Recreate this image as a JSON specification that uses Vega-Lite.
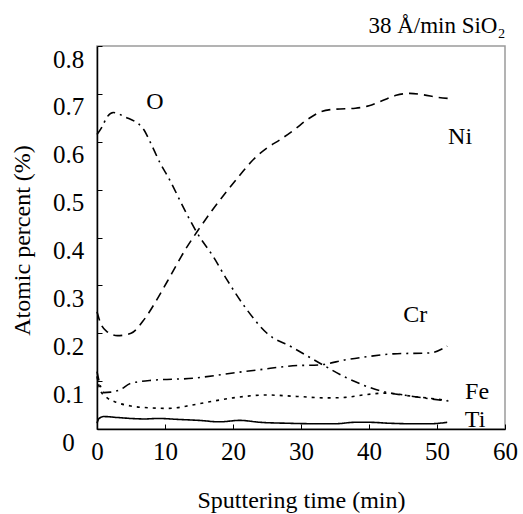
{
  "$schema": "https://vega.github.io/schema/vega-lite/v6.json",
  "autosize": {"type": "none"},
  "padding": {"left": 97, "top": 46, "right": 18, "bottom": 85},
  "width": 408,
  "height": 383,
  "background": "white",
  "config": {
    "font": "Liberation Serif, Times New Roman, serif",
    "view": {"stroke": "#9a9a9a", "strokeWidth": 1.5},
    "axis": {"grid": false, "domainColor": "black", "domainWidth": 1.5, "tickColor": "black", "labelColor": "black", "titleColor": "black", "labelFont": "Liberation Serif, Times New Roman, serif", "titleFont": "Liberation Serif, Times New Roman, serif", "labelFontSize": 25, "titleFontSize": 24, "titleFontWeight": "normal"}
  },
  "title": {"text": "38 Å/min SiO₂", "anchor": "end", "fontSize": 23, "fontWeight": "normal", "font": "Liberation Serif, Times New Roman, serif", "color": "black", "offset": 8, "dx": -12},
  "datasets": {
    "lines": [
      {"el": "Ni", "t": 0, "v": 0.245}, {"el": "Ni", "t": 0.5, "v": 0.222}, {"el": "Ni", "t": 1.5, "v": 0.203}, {"el": "Ni", "t": 3, "v": 0.195}, {"el": "Ni", "t": 5, "v": 0.2}, {"el": "Ni", "t": 7, "v": 0.23}, {"el": "Ni", "t": 9, "v": 0.275}, {"el": "Ni", "t": 11, "v": 0.325}, {"el": "Ni", "t": 13, "v": 0.375}, {"el": "Ni", "t": 15, "v": 0.418}, {"el": "Ni", "t": 17, "v": 0.458}, {"el": "Ni", "t": 19, "v": 0.495}, {"el": "Ni", "t": 21, "v": 0.53}, {"el": "Ni", "t": 23, "v": 0.563}, {"el": "Ni", "t": 25, "v": 0.587}, {"el": "Ni", "t": 27, "v": 0.605}, {"el": "Ni", "t": 29, "v": 0.625}, {"el": "Ni", "t": 31, "v": 0.647}, {"el": "Ni", "t": 33, "v": 0.663}, {"el": "Ni", "t": 35, "v": 0.668}, {"el": "Ni", "t": 38, "v": 0.67}, {"el": "Ni", "t": 40, "v": 0.675}, {"el": "Ni", "t": 42, "v": 0.686}, {"el": "Ni", "t": 44, "v": 0.697}, {"el": "Ni", "t": 46, "v": 0.701}, {"el": "Ni", "t": 48, "v": 0.698}, {"el": "Ni", "t": 50, "v": 0.693}, {"el": "Ni", "t": 52, "v": 0.69},
      {"el": "O", "t": 0, "v": 0.615}, {"el": "O", "t": 0.7, "v": 0.63}, {"el": "O", "t": 1.5, "v": 0.652}, {"el": "O", "t": 2.4, "v": 0.661}, {"el": "O", "t": 4.1, "v": 0.652}, {"el": "O", "t": 6.8, "v": 0.627}, {"el": "O", "t": 7.8, "v": 0.6}, {"el": "O", "t": 9.3, "v": 0.555}, {"el": "O", "t": 10.7, "v": 0.52}, {"el": "O", "t": 12.7, "v": 0.463}, {"el": "O", "t": 14.7, "v": 0.41}, {"el": "O", "t": 17.1, "v": 0.36}, {"el": "O", "t": 19.1, "v": 0.312}, {"el": "O", "t": 22, "v": 0.25}, {"el": "O", "t": 25, "v": 0.2}, {"el": "O", "t": 28.8, "v": 0.17}, {"el": "O", "t": 33.2, "v": 0.134}, {"el": "O", "t": 36.7, "v": 0.107}, {"el": "O", "t": 41.6, "v": 0.08}, {"el": "O", "t": 46.5, "v": 0.068}, {"el": "O", "t": 51.9, "v": 0.058},
      {"el": "Cr", "t": 0, "v": 0.12}, {"el": "Cr", "t": 0.5, "v": 0.09}, {"el": "Cr", "t": 1, "v": 0.076}, {"el": "Cr", "t": 2, "v": 0.077}, {"el": "Cr", "t": 3.4, "v": 0.082}, {"el": "Cr", "t": 4.9, "v": 0.095}, {"el": "Cr", "t": 8.3, "v": 0.102}, {"el": "Cr", "t": 14.1, "v": 0.106}, {"el": "Cr", "t": 20, "v": 0.117}, {"el": "Cr", "t": 24, "v": 0.124}, {"el": "Cr", "t": 28.8, "v": 0.132}, {"el": "Cr", "t": 32.8, "v": 0.134}, {"el": "Cr", "t": 36.7, "v": 0.145}, {"el": "Cr", "t": 39.7, "v": 0.151}, {"el": "Cr", "t": 43.6, "v": 0.157}, {"el": "Cr", "t": 49, "v": 0.159}, {"el": "Cr", "t": 51.5, "v": 0.173},
      {"el": "Fe", "t": 0, "v": 0.11}, {"el": "Fe", "t": 0.5, "v": 0.08}, {"el": "Fe", "t": 1.5, "v": 0.065}, {"el": "Fe", "t": 3, "v": 0.055}, {"el": "Fe", "t": 5, "v": 0.048}, {"el": "Fe", "t": 8, "v": 0.044}, {"el": "Fe", "t": 10.5, "v": 0.043}, {"el": "Fe", "t": 14, "v": 0.05}, {"el": "Fe", "t": 17, "v": 0.058}, {"el": "Fe", "t": 20, "v": 0.065}, {"el": "Fe", "t": 25, "v": 0.071}, {"el": "Fe", "t": 29.4, "v": 0.068}, {"el": "Fe", "t": 33.8, "v": 0.065}, {"el": "Fe", "t": 36.5, "v": 0.066}, {"el": "Fe", "t": 39.1, "v": 0.071}, {"el": "Fe", "t": 42.6, "v": 0.075}, {"el": "Fe", "t": 46.5, "v": 0.068}, {"el": "Fe", "t": 49, "v": 0.064}, {"el": "Fe", "t": 51.5, "v": 0.06},
      {"el": "Ti", "t": 0, "v": 0.012}, {"el": "Ti", "t": 0.3, "v": 0.022}, {"el": "Ti", "t": 1, "v": 0.026}, {"el": "Ti", "t": 3, "v": 0.024}, {"el": "Ti", "t": 5, "v": 0.022}, {"el": "Ti", "t": 7, "v": 0.021}, {"el": "Ti", "t": 9, "v": 0.022}, {"el": "Ti", "t": 12, "v": 0.02}, {"el": "Ti", "t": 15, "v": 0.018}, {"el": "Ti", "t": 18, "v": 0.015}, {"el": "Ti", "t": 21, "v": 0.018}, {"el": "Ti", "t": 24, "v": 0.014}, {"el": "Ti", "t": 28, "v": 0.012}, {"el": "Ti", "t": 32, "v": 0.011}, {"el": "Ti", "t": 35, "v": 0.011}, {"el": "Ti", "t": 38, "v": 0.014}, {"el": "Ti", "t": 40, "v": 0.014}, {"el": "Ti", "t": 43, "v": 0.012}, {"el": "Ti", "t": 46, "v": 0.011}, {"el": "Ti", "t": 49, "v": 0.011}, {"el": "Ti", "t": 51.5, "v": 0.014}
    ],
    "labels": [
      {"label": "O", "t": 8.5, "v": 0.683},
      {"label": "Ni", "t": 53.4, "v": 0.61},
      {"label": "Cr", "t": 46.8, "v": 0.238},
      {"label": "Fe", "t": 55.9, "v": 0.077},
      {"label": "Ti", "t": 55.6, "v": 0.019}
    ]
  },
  "layer": [
    {
      "data": {"name": "lines"},
      "mark": {"type": "line", "interpolate": "monotone", "color": "black"},
      "encoding": {
        "x": {"field": "t", "type": "quantitative", "scale": {"domain": [0, 60], "nice": false}, "axis": {"title": "Sputtering time (min)", "values": [0, 10, 20, 30, 40, 50, 60], "tickSize": -5, "labelPadding": 15, "labelFlush": false, "titleY": 71, "titleBaseline": "middle"}},
        "y": {"field": "v", "type": "quantitative", "scale": {"domain": [0, 0.8], "nice": false}, "axis": {"title": "Atomic percent (%)", "values": [0, 0.1, 0.2, 0.3, 0.4, 0.5, 0.6, 0.7, 0.8], "labelExpr": "datum.value == 0 ? '0' : format(datum.value, '.1f')", "tickSize": -5, "labelAlign": "center", "labelPadding": 34, "labelOffset": 13, "labelFlush": false, "titleX": -75, "titleY": 194, "titleAlign": "center", "titleBaseline": "middle", "titleAngle": -90}},
        "detail": {"field": "el"},
        "strokeDash": {"field": "el", "type": "nominal", "scale": {"domain": ["Ni", "O", "Cr", "Fe", "Ti"], "range": [[9, 6], [9, 5, 2, 5], [9, 5, 2, 5], [3, 5], [1, 0]]}, "legend": null},
        "strokeWidth": {"field": "el", "type": "nominal", "scale": {"domain": ["Ni", "O", "Cr", "Fe", "Ti"], "range": [1.6, 1.6, 1.6, 1.8, 3.2]}, "legend": null}
      }
    },
    {
      "data": {"name": "labels"},
      "mark": {"type": "text", "fontSize": 24, "font": "Liberation Serif, Times New Roman, serif", "color": "black", "align": "center", "baseline": "middle"},
      "encoding": {
        "x": {"field": "t", "type": "quantitative"},
        "y": {"field": "v", "type": "quantitative"},
        "text": {"field": "label"}
      }
    }
  ]
}
